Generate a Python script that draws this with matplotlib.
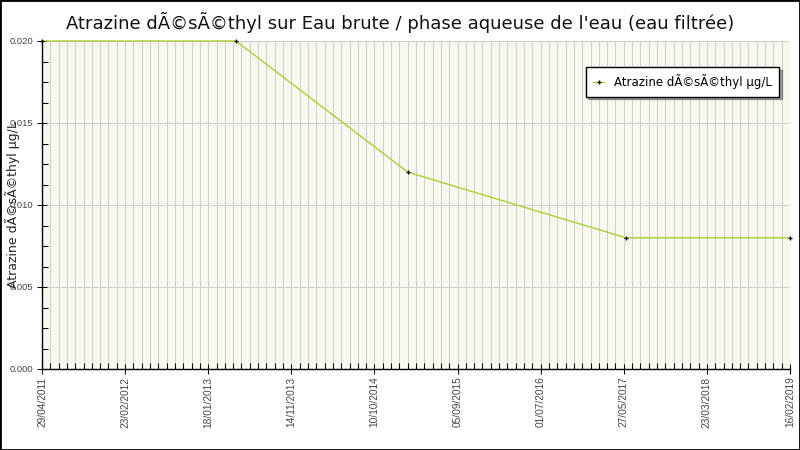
import matplotlib
matplotlib.use("Agg")
import matplotlib.pyplot as plt
import matplotlib.dates as mdates
import numpy as np
from datetime import datetime

dates = ["2011-04-29", "2013-05-07", "2015-02-21", "2017-06-01", "2019-02-16"]
values = [0.020, 0.020, 0.012, 0.008, 0.008]
x_labels = ["29/04/2011", "23/02/2012", "18/01/2013", "14/11/2013", "10/10/2014",
            "05/09/2015", "01/07/2016", "27/05/2017", "23/03/2018", "16/02/2019"]
y_ticks = [0.000, 0.005, 0.010, 0.015, 0.020]
title = "Atrazine dÃ©sÃ©thyl sur Eau brute / phase aqueuse de l'eau (eau filtrée)"
ylabel = "Atrazine dÃ©sÃ©thyl µg/L"
series_name = "Atrazine dÃ©sÃ©thyl µg/L"

xd = mdates.date2num([datetime.strptime(d, "%Y-%m-%d") for d in dates])
x0 = mdates.date2num(datetime(2011, 4, 29))
x1 = mdates.date2num(datetime(2019, 2, 16))

fig = plt.figure(figsize=(8, 4.5), dpi=100)
fig.patch.set_facecolor("white")
ax = fig.add_axes([42/800, 1-369/450, (790-42)/800, (369-41)/450])
ax.set_facecolor("#f8f8f0")

line_col = "#a8d030"
ax.plot(xd, values, color=line_col, lw=1.0, marker="+", mec="black", ms=3.5, mew=0.9,
        label=series_name, zorder=3, clip_on=False)

ax.set_xlim(x0, x1)
ax.set_ylim(0, 0.020)
major = np.linspace(x0, x1, len(x_labels))
minor = np.linspace(x0, x1, 91)
ax.set_xticks(major)
ax.set_xticklabels(x_labels, rotation=90, fontsize=7.3, color="#444444", family="Liberation Sans")
ax.set_xticks(minor, minor=True)
ax.set_yticks(y_ticks)
ax.set_yticklabels([f"{v:.3f}" for v in y_ticks], fontsize=6.8, color="#444444", family="Liberation Sans")
ax.set_yticks(np.arange(0, 0.02001, 0.00125), minor=True)

ax.grid(False)
for m in minor:
    ax.axvline(m, color="#cfcfcf", lw=0.75, zorder=1)
for v in y_ticks[1:]:
    ax.axhline(v, color="#cfcfcf", lw=0.75, zorder=1)

ax.tick_params(axis="x", which="major", direction="inout", length=7, width=0.75, pad=2)
ax.tick_params(axis="x", which="minor", direction="in", length=4, width=0.75)
ax.tick_params(axis="y", which="major", direction="inout", length=7, width=0.75, pad=3)
ax.tick_params(axis="y", which="minor", direction="in", length=4, width=0.75)

for s in ["top", "right"]:
    ax.spines[s].set_visible(False)
for s in ["left", "bottom"]:
    ax.spines[s].set_color("black")
    ax.spines[s].set_linewidth(1.0)

ax.set_ylabel(ylabel, fontsize=9, color="#222222", labelpad=-8)
fig.text(0.5, 1-22/450, title, ha="center", va="center", fontsize=13, color="#111111")

leg = ax.legend(loc="upper right", bbox_to_anchor=(0.993, 0.9375), fontsize=8.5,
                frameon=True, fancybox=False, shadow=True, handlelength=1.0,
                borderpad=0.6, edgecolor="black")
leg.get_frame().set_linewidth(1.0)
leg.get_frame().set_facecolor("white")

border = plt.Rectangle((0, 0), 1, 1, transform=fig.transFigure, fill=False,
                       edgecolor="black", lw=2, zorder=10)
fig.patches.append(border)

fig.savefig("out.png", dpi=100)
